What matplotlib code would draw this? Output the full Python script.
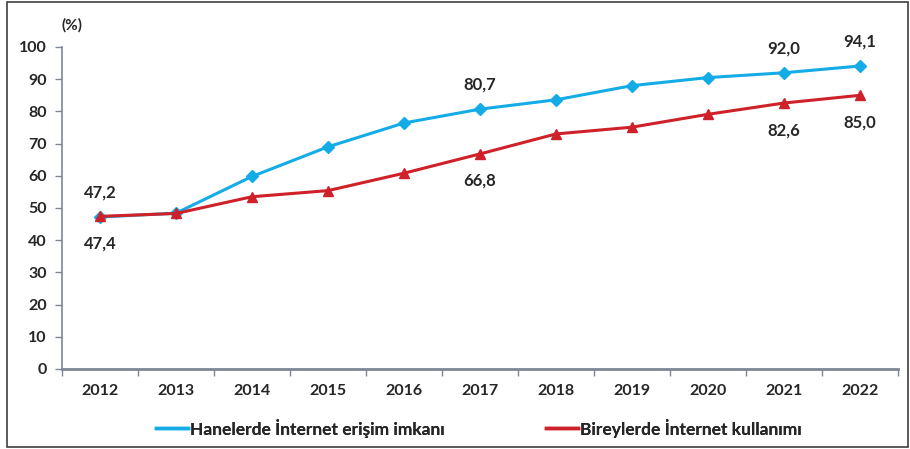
import matplotlib
matplotlib.use("Agg")
import matplotlib.pyplot as plt
from matplotlib.lines import Line2D
from matplotlib.patches import Rectangle

years = ["2012", "2013", "2014", "2015", "2016", "2017", "2018", "2019", "2020", "2021", "2022"]
hane = [47.2, 48.4, 59.8, 69.0, 76.4, 80.7, 83.6, 88.0, 90.5, 92.0, 94.1]
birey = [47.4, 48.3, 53.5, 55.4, 60.8, 66.8, 73.0, 75.1, 79.1, 82.6, 85.0]
series_names = ["Hanelerde İnternet erişim imkanı", "Bireylerde İnternet kullanımı"]
yticks = [0, 10, 20, 30, 40, 50, 60, 70, 80, 90, 100]

hane_labels = {0: "47,2", 5: "80,7", 9: "92,0", 10: "94,1"}
birey_labels = {0: "47,4", 5: "66,8", 9: "82,6", 10: "85,0"}

plt.rcParams['font.family'] = ['Lato', 'DejaVu Sans']
TXT = '#262626'
BLUE = '#14ACE6'
RED = '#CF2129'
AX = '#7D8794'
FS = 11.5

fig = plt.figure(figsize=(9.1, 4.49), dpi=100)
ax = fig.add_axes([62/910, 80/449, 836/910, 322/449])

x = list(range(len(years)))
ax.plot(x, hane, color=BLUE, lw=2.2, marker='D', ms=6.5, mfc=BLUE, mec=BLUE, zorder=3)
ax.plot(x, birey, color=RED, lw=2.2, marker='^', ms=7, mfc=RED, mec=RED, zorder=4)

for i, t in hane_labels.items():
    ax.annotate(t, (i, hane[i]), xytext=(0, 17.5), textcoords='offset points',
                ha='center', va='center', fontsize=12, fontweight='bold', color=TXT)
for i, t in birey_labels.items():
    ax.annotate(t, (i, birey[i]), xytext=(0, -19.5), textcoords='offset points',
                ha='center', va='center', fontsize=12, fontweight='bold', color=TXT)

ax.set_xlim(-0.5, len(years) - 0.5)
ax.set_ylim(0, 100)
ax.set_yticks(yticks)
ax.set_yticklabels([str(v) for v in yticks], fontsize=FS, fontweight='bold', color=TXT)
ax.set_xticks(x)
ax.set_xticklabels(years, fontsize=FS, fontweight='bold', color=TXT)
ax.set_xticks([i - 0.5 for i in range(len(years) + 1)], minor=True)
ax.tick_params(axis='x', which='major', length=0, pad=11)
ax.tick_params(axis='x', which='minor', length=5, color=AX, width=1, direction='out')
ax.tick_params(axis='y', length=5, color=AX, width=1, pad=6, direction='out')

for s in ['top', 'right']:
    ax.spines[s].set_visible(False)
ax.spines['left'].set_color(AX)
ax.spines['bottom'].set_color(AX)
ax.spines['left'].set_linewidth(1.2)
ax.spines['bottom'].set_linewidth(2)

fig.text(72/910, 1 - 25/449, "(%)", ha='center', va='center', fontsize=11,
         fontweight='bold', color=TXT)

# legend (two entries placed separately)
colors = [BLUE, RED]
anchors = [(156/910, 1 - 428/449), (546/910, 1 - 428/449)]
for name, c, anc in zip(series_names, colors, anchors):
    leg = fig.legend([Line2D([], [], color=c, lw=2.5)], [name], loc='center left',
                     bbox_to_anchor=anc, frameon=False, fontsize=12.5, handlelength=1.85,
                     handletextpad=0.1, borderpad=0, borderaxespad=0)
    for t in leg.get_texts():
        t.set_fontweight('bold')
        t.set_color(TXT)
    fig.add_artist(leg)

# outer frame
fig.patches.append(Rectangle((7/910, 2/449), 901/910, 445/449, transform=fig.transFigure,
                             fill=False, edgecolor='#404040', lw=1.2))

fig.savefig("out.png", dpi=100)
